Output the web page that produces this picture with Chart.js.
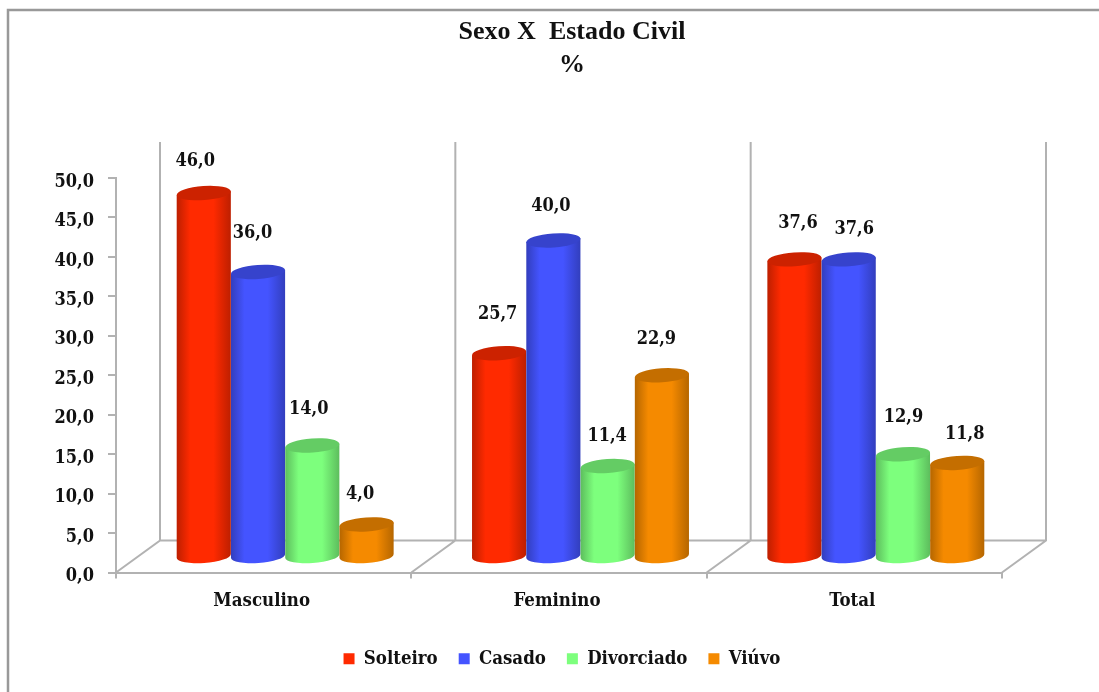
<!DOCTYPE html>
<html>
<head>
<meta charset="utf-8">
<title>Sexo X Estado Civil</title>
<script src="https://cdn.jsdelivr.net/npm/chart.js@4/dist/chart.umd.js"></script>
<style>
    html, body { margin: 0; padding: 0; background: #fff; }
    #wrap { width: 1099px; height: 692px; position: relative; }
</style>
</head>
<body>
<div id="wrap"><canvas id="myChart" width="1099" height="692"></canvas></div>
<script>
const categories = ['Masculino', 'Feminino', 'Total'];
const solteiro = [46.0, 25.7, 37.6];
const casado = [36.0, 40.0, 37.6];
const divorciado = [14.0, 11.4, 12.9];
const viuvo = [4.0, 22.9, 11.8];
const tickLabels = ['0,0', '5,0', '10,0', '15,0', '20,0', '25,0', '30,0', '35,0', '40,0', '45,0', '50,0'];

const AXIS_GREY = '#b2b2b2';
const DEPTH_X = 44; // how far the back wall sits from the front axis
const DEPTH_Y = 32;
const FONT = '"DejaVu Serif Condensed", "DejaVu Serif", serif';

// hand placed in the original, so each label gets its own nudge from the top of its bar [dx, dy]
const labelNudge = [
    [[-9, -32], [-6, -39], [-4, -37], [-7, -31]],
    [[-2, -39], [-3, -35], [-1, -30], [-6, -37]],
    [[3, -37], [5, -31], [0, -37], [7, -29]]
];

function shade(hex, f) {
    const n = parseInt(hex.slice(1), 16);
    const r = Math.round((n >> 16) * f);
    const g = Math.round(((n >> 8) & 255) * f);
    const b = Math.round((n & 255) * f);
    return `rgb(${r},${g},${b})`;
}

function drawCylinder(ctx, x, top, bottom, width, color) {
    const rx = width / 2;
    const ry = 7;
    const tilt = -0.07;
    const dx = rx * Math.cos(tilt);
    const dy = rx * Math.sin(tilt);

    const grad = ctx.createLinearGradient(x - rx, 0, x + rx, 0);
    grad.addColorStop(0, shade(color, 0.74));
    grad.addColorStop(0.25, color);
    grad.addColorStop(0.68, color);
    grad.addColorStop(1, shade(color, 0.74));

    ctx.fillStyle = grad;
    ctx.beginPath();
    ctx.moveTo(x - dx, top - dy);
    ctx.lineTo(x - dx, bottom - dy);
    ctx.ellipse(x, bottom, rx, ry, tilt, Math.PI, 0, true);
    ctx.lineTo(x + dx, top + dy);
    ctx.closePath();
    ctx.fill();

    ctx.fillStyle = shade(color, 0.8);
    ctx.beginPath();
    ctx.ellipse(x, top, rx, ry, tilt, 0, Math.PI * 2);
    ctx.fill();
}

// walls and floor behind the bars
const wallsPlugin = {
    id: 'walls',
    beforeDatasetsDraw(chart) {
        const { ctx, scales: { x, y } } = chart;
        const step = (x.right - x.left) / categories.length;
        const front = y.getPixelForValue(0);
        const wallTop = y.getPixelForValue(50) - 36;

        ctx.save();
        ctx.strokeStyle = AXIS_GREY;
        ctx.lineWidth = 2;
        ctx.beginPath();
        for (let i = 0; i <= categories.length; i++) {
            const px = x.left + step * i;
            ctx.moveTo(px, front);
            ctx.lineTo(px + DEPTH_X, front - DEPTH_Y);
            ctx.lineTo(px + DEPTH_X, wallTop);
        }
        ctx.moveTo(x.left + DEPTH_X, front - DEPTH_Y);
        ctx.lineTo(x.right + DEPTH_X, front - DEPTH_Y);
        ctx.stroke();
        ctx.restore();
    }
};

// cylinders instead of flat bars, left to right so each one overlaps the previous
const cylinderPlugin = {
    id: 'cylinders',
    beforeDatasetsDraw(chart) {
        const { ctx, data } = chart;
        ctx.save();
        data.datasets.forEach((ds, i) => {
            chart.getDatasetMeta(i).data.forEach(bar => {
                drawCylinder(ctx, bar.x + DEPTH_X / 2 - 0.5, bar.y - DEPTH_Y / 2 - 0.5, bar.base - DEPTH_Y / 2 + 0.5, bar.width, ds.backgroundColor);
            });
        });
        ctx.fillStyle = '#111';
        ctx.font = `bold 18px ${FONT}`;
        ctx.textAlign = 'center';
        ctx.textBaseline = 'middle';
        data.datasets.forEach((ds, i) => {
            chart.getDatasetMeta(i).data.forEach((bar, j) => {
                const nudge = labelNudge[j][i];
                const text = ds.data[j].toFixed(1).replace('.', ',');
                ctx.fillText(text, bar.x + DEPTH_X / 2 + nudge[0], bar.y - DEPTH_Y / 2 + nudge[1]);
            });
        });
        ctx.restore();
        return false;
    }
};

// the frame only has its top and left edges
const framePlugin = {
    id: 'frame',
    beforeDraw(chart) {
        const { ctx, width, height } = chart;
        ctx.save();
        ctx.fillStyle = '#fff';
        ctx.fillRect(0, 0, width, height);
        ctx.strokeStyle = '#999';
        ctx.lineWidth = 2.5;
        ctx.beginPath();
        ctx.moveTo(8, height);
        ctx.lineTo(8, 10);
        ctx.lineTo(width, 10);
        ctx.stroke();
        ctx.restore();
    }
};

// title and legend are not centred on the plot in the original
const centeringPlugin = {
    id: 'centering',
    afterLayout(chart) {
        chart.titleBlock.left += 142;
        chart.legend.left += 122;
    }
};

new Chart(document.getElementById('myChart'), {
    type: 'bar',
    data: {
        labels: categories,
        datasets: [
            { label: 'Solteiro', data: solteiro, backgroundColor: '#FF2A00' },
            { label: 'Casado', data: casado, backgroundColor: '#4454FF' },
            { label: 'Divorciado', data: divorciado, backgroundColor: '#7DFF7D' },
            { label: 'Viúvo', data: viuvo, backgroundColor: '#F58A00' }
        ]
    },
    options: {
        responsive: false,
        animation: false,
        categoryPercentage: 0.735,
        barPercentage: 1,
        layout: { padding: { left: 0, right: 97, top: 0, bottom: 14 } },
        plugins: {
            tooltip: { enabled: false },
            title: {
                display: true,
                text: ['Sexo X  Estado Civil', '%'],
                color: '#111',
                font: { family: '"Liberation Serif", serif', size: 26, weight: 'bold', lineHeight: 1.27 },
                padding: { top: 16, bottom: 96 }
            },
            legend: {
                position: 'bottom',
                labels: {
                    color: '#111',
                    font: { family: FONT, size: 18.5, weight: 'bold' },
                    boxWidth: 11,
                    boxHeight: 11,
                    padding: 21
                }
            }
        },
        scales: {
            x: {
                afterFit(scale) { scale.height = 56; },
                border: { color: AXIS_GREY, width: 2 },
                grid: { drawOnChartArea: false, drawTicks: true, tickLength: 6, color: AXIS_GREY, lineWidth: 2 },
                ticks: { color: '#111', padding: 12, labelOffset: -2, font: { family: FONT, size: 18.5, weight: 'bold' } }
            },
            y: {
                min: 0,
                max: 50,
                afterFit(scale) { scale.width = 116; },
                border: { color: AXIS_GREY, width: 2 },
                grid: { drawOnChartArea: false, drawTicks: true, tickLength: 8, color: AXIS_GREY, lineWidth: 2 },
                ticks: {
                    stepSize: 5,
                    color: '#111',
                    padding: 14,
                    labelOffset: 4,
                    font: { family: FONT, size: 18, weight: 'bold' },
                    callback: (value, index) => tickLabels[index]
                }
            }
        }
    },
    plugins: [framePlugin, wallsPlugin, cylinderPlugin, centeringPlugin]
});
</script>
</body>
</html>
